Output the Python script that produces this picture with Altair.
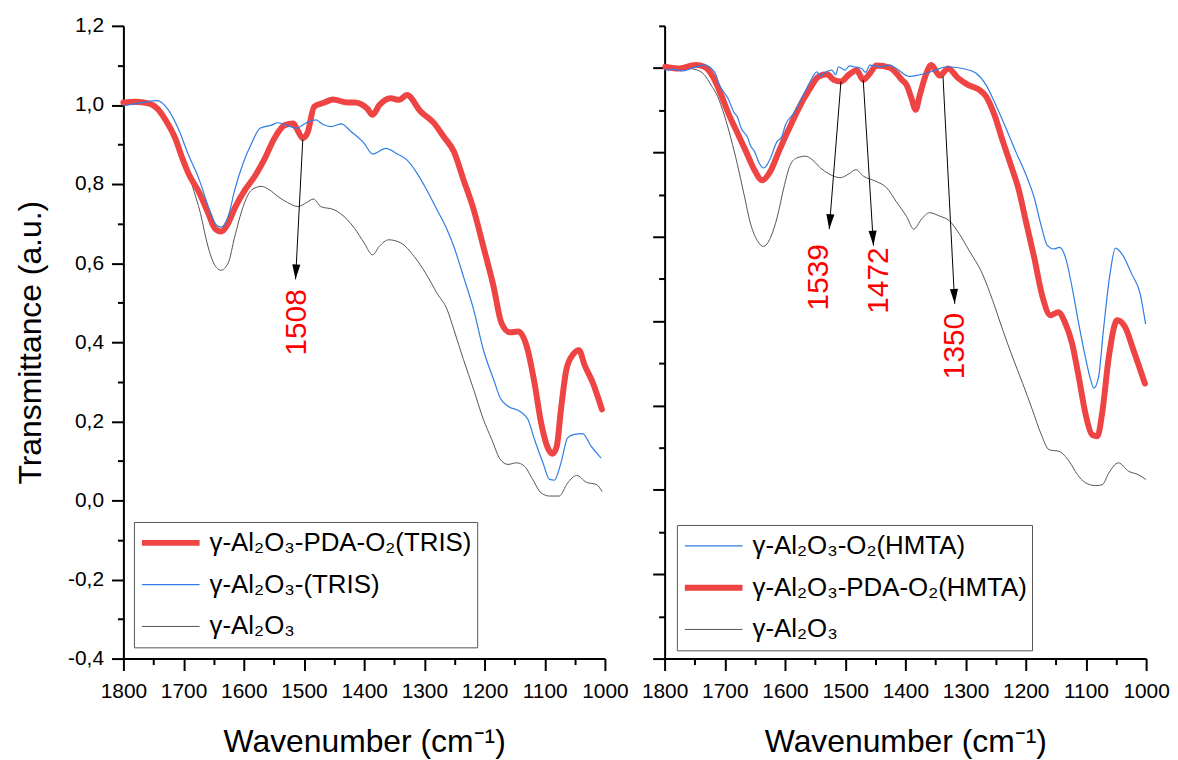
import altair as alt
import pandas as pd

FONT = "Liberation Sans"

# ---------------- left panel (TRIS) ----------------
L_RED_NAME = "γ-Al₂O₃-PDA-O₂(TRIS)"
L_BLUE_NAME = "γ-Al₂O₃-(TRIS)"
L_GRAY_NAME = "γ-Al₂O₃"

L_RED_WN = [1800, 1780, 1758, 1744, 1730, 1714, 1703, 1692, 1675, 1659, 1648, 1638, 1626, 1615,
            1598, 1582, 1565, 1549, 1532, 1518, 1511, 1502, 1494, 1483, 1466, 1452, 1428, 1416,
            1395, 1386, 1375, 1356, 1342, 1329, 1306, 1284, 1268, 1251, 1235, 1218, 1202, 1185,
            1172, 1158, 1144, 1130, 1117, 1106, 1095, 1087, 1080, 1073, 1064, 1053, 1043, 1034,
            1020, 1005]
L_RED_T = [1.006, 1.008, 1.004, 0.991, 0.962, 0.916, 0.869, 0.827, 0.781, 0.726, 0.688, 0.680,
           0.701, 0.739, 0.785, 0.819, 0.865, 0.916, 0.949, 0.953, 0.937, 0.916, 0.930, 0.996,
           1.006, 1.014, 1.006, 1.006, 0.991, 0.975, 0.999, 1.017, 1.013, 1.025, 0.983, 0.954,
           0.920, 0.882, 0.811, 0.735, 0.642, 0.541, 0.449, 0.425, 0.427, 0.390, 0.297, 0.196,
           0.133, 0.118, 0.137, 0.230, 0.331, 0.369, 0.380, 0.343, 0.297, 0.230]

L_BLUE_WN = [1800, 1769, 1744, 1725, 1708, 1692, 1675, 1659, 1648, 1638, 1626, 1615, 1601, 1587,
             1573, 1554, 1543, 1527, 1513, 1496, 1480, 1469, 1455, 1438, 1422, 1400, 1386, 1364,
             1345, 1329, 1312, 1296, 1279, 1262, 1251, 1235, 1218, 1202, 1185, 1174, 1161, 1141,
             1128, 1117, 1103, 1092, 1084, 1073, 1062, 1051, 1037, 1023, 1007]
L_BLUE_T = [0.998, 1.006, 1.011, 0.987, 0.937, 0.874, 0.815, 0.743, 0.701, 0.691, 0.718, 0.785,
            0.853, 0.903, 0.941, 0.949, 0.955, 0.947, 0.941, 0.955, 0.962, 0.951, 0.945, 0.952,
            0.933, 0.903, 0.876, 0.890, 0.876, 0.861, 0.827, 0.785, 0.735, 0.684, 0.642, 0.566,
            0.482, 0.381, 0.306, 0.259, 0.238, 0.225, 0.205, 0.154, 0.095, 0.053, 0.051, 0.095,
            0.158, 0.167, 0.169, 0.137, 0.108]

L_GRAY_WN = [1800, 1770, 1745, 1725, 1705, 1695, 1686, 1672, 1661, 1650, 1638, 1626, 1615, 1601,
             1587, 1571, 1557, 1543, 1527, 1510, 1496, 1484, 1472, 1450, 1428, 1416, 1400, 1386,
             1375, 1359, 1339, 1317, 1298, 1279, 1262, 1251, 1235, 1218, 1202, 1188, 1174, 1161,
             1147, 1134, 1120, 1106, 1092, 1076, 1062, 1047, 1031, 1014, 1005]
L_GRAY_T = [1.000, 1.003, 0.990, 0.955, 0.890, 0.845, 0.798, 0.726, 0.651, 0.600, 0.582, 0.600,
            0.667, 0.743, 0.785, 0.794, 0.785, 0.768, 0.753, 0.743, 0.753, 0.762, 0.743, 0.735,
            0.710, 0.688, 0.651, 0.621, 0.642, 0.659, 0.651, 0.617, 0.575, 0.524, 0.482, 0.432,
            0.356, 0.280, 0.205, 0.154, 0.104, 0.091, 0.095, 0.087, 0.053, 0.019, 0.011, 0.011,
            0.044, 0.063, 0.046, 0.040, 0.023]

L_ANN_LABEL = ["1508"]
L_ANN_WN1 = [1502]
L_ANN_T1 = [0.912]
L_ANN_WN2 = [1514]
L_ANN_T2 = [0.559]
L_ANN_TXT_WN = [1512]
L_ANN_TXT_T = [0.450]
L_ANN_HEAD_ANGLE = [3]

# ---------------- right panel (HMTA) ----------------
R_BLUE_NAME = "γ-Al₂O₃-O₂(HMTA)"
R_RED_NAME = "γ-Al₂O₃-PDA-O₂(HMTA)"
R_GRAY_NAME = " γ-Al₂O₃"

R_RED_WN = [1799, 1778, 1748, 1734, 1720, 1706, 1693, 1679, 1665, 1651, 1638, 1624, 1610, 1594,
            1577, 1560, 1544, 1530, 1519, 1507, 1494, 1481, 1470, 1459, 1448, 1426, 1415, 1406,
            1398, 1390, 1383, 1376, 1365, 1357, 1343, 1329, 1313, 1296, 1277, 1266, 1252, 1238,
            1225, 1211, 1200, 1186, 1172, 1159, 1146, 1134, 1123, 1112, 1101, 1090, 1081, 1073,
            1062, 1048, 1035, 1021, 1002]
R_RED_T = [1.003, 0.999, 1.007, 1.003, 0.980, 0.936, 0.889, 0.846, 0.803, 0.759, 0.734, 0.756,
           0.803, 0.854, 0.905, 0.948, 0.980, 0.985, 0.972, 0.968, 0.984, 0.995, 0.972, 0.987,
           1.006, 1.001, 0.988, 0.972, 0.960, 0.929, 0.901, 0.936, 0.988, 1.007, 0.982, 0.999,
           0.977, 0.960, 0.948, 0.933, 0.889, 0.826, 0.771, 0.708, 0.638, 0.551, 0.457, 0.414,
           0.421, 0.394, 0.347, 0.268, 0.182, 0.131, 0.127, 0.182, 0.315, 0.402, 0.386, 0.331,
           0.252]

R_BLUE_WN = [1799, 1784, 1770, 1756, 1745, 1734, 1717, 1709, 1695, 1684, 1679, 1673, 1662, 1657,
             1651, 1643, 1636, 1630, 1624, 1613, 1606, 1599, 1585, 1572, 1558, 1547, 1541, 1536,
             1522, 1516, 1511, 1500, 1493, 1486, 1473, 1466, 1459, 1442, 1426, 1415, 1393, 1376,
             1360, 1330, 1299, 1283, 1266, 1250, 1233, 1217, 1200, 1186, 1175, 1164, 1153, 1144,
             1134, 1123, 1112, 1101, 1092, 1087, 1079, 1071, 1060, 1051, 1040, 1024, 1010, 1001]
R_BLUE_T = [0.995, 0.997, 0.993, 0.999, 1.004, 1.007, 0.991, 0.960, 0.929, 0.893, 0.884, 0.858,
            0.835, 0.815, 0.803, 0.775, 0.763, 0.770, 0.787, 0.826, 0.835, 0.866, 0.893, 0.929,
            0.968, 0.991, 0.980, 0.987, 0.995, 0.984, 1.003, 0.995, 1.005, 1.003, 0.999, 0.990,
            1.007, 1.003, 1.007, 0.999, 0.980, 0.984, 0.990, 1.003, 0.997, 0.988, 0.960, 0.913,
            0.858, 0.803, 0.748, 0.693, 0.630, 0.579, 0.571, 0.575, 0.551, 0.480, 0.394, 0.315,
            0.260, 0.241, 0.268, 0.378, 0.512, 0.573, 0.559, 0.512, 0.465, 0.394]

R_GRAY_WN = [1800, 1780, 1760, 1750, 1734, 1723, 1712, 1701, 1690, 1679, 1668, 1657, 1646, 1636,
             1624, 1613, 1602, 1591, 1580, 1566, 1555, 1541, 1527, 1508, 1494, 1482, 1470, 1450,
             1431, 1415, 1398, 1386, 1373, 1360, 1343, 1327, 1310, 1294, 1272, 1255, 1238, 1222,
             1205, 1189, 1175, 1161, 1144, 1128, 1114, 1101, 1084, 1073, 1062, 1046, 1029, 1013,
             1001]
R_GRAY_T = [1.000, 1.000, 0.999, 0.997, 0.984, 0.960, 0.933, 0.889, 0.834, 0.771, 0.700, 0.630,
            0.591, 0.577, 0.598, 0.646, 0.716, 0.771, 0.787, 0.791, 0.783, 0.763, 0.749, 0.740,
            0.749, 0.759, 0.744, 0.732, 0.716, 0.683, 0.648, 0.618, 0.642, 0.657, 0.649, 0.638,
            0.606, 0.567, 0.512, 0.449, 0.378, 0.315, 0.252, 0.190, 0.134, 0.095, 0.091, 0.068,
            0.036, 0.017, 0.010, 0.012, 0.040, 0.064, 0.044, 0.036, 0.025]

R_ANN_LABEL = ["1539", "1472", "1350"]
R_ANN_WN1 = [1507, 1470, 1337.5]
R_ANN_T1 = [0.968, 0.972, 0.980]
R_ANN_WN2 = [1526.5, 1453, 1318]
R_ANN_T2 = [0.618, 0.579, 0.441]
R_ANN_TXT_WN = [1543.5, 1443, 1317]
R_ANN_TXT_T = [0.504, 0.496, 0.341]
R_ANN_HEAD_ANGLE = [4.5, 356.6, 357.1]

# ---------------- axes ticks ----------------
X_TICKS = list(range(1000, 1801, 50))
Y_TICKS_LEFT = [round(-0.4 + 0.1 * i, 1) for i in range(17)]
Y_TICKS_RIGHT = [round(-0.4 + 0.1 * i, 1) for i in range(16)]

RED = "#EF4444"
BLUE = "#2F7DE6"
GRAY = "#555555"

ARROW_HEAD = "M0,0L-0.27,-1L0.27,-1Z"


def series_frame(wn, t, name):
    return pd.DataFrame({"wn": wn, "t": t, "series": name})


def panel(frames, legend_order, colors, widths, draw_order, y_domain, y_ticks, show_y_labels,
          ann, legend_xy):
    df = pd.concat(frames, ignore_index=True)
    legend = alt.Legend(
        title=None, orient="none", legendX=legend_xy[0], legendY=legend_xy[1],
        symbolType="stroke", symbolSize=3364, clipHeight=32, rowPadding=10, padding=5,
        strokeColor="#555555", fillColor="white", labelFont=FONT, labelFontSize=26,
        labelColor="black", labelLimit=0, labelOffset=7,
    )
    x_axis = alt.Axis(
        values=X_TICKS, format="d",
        labelExpr="datum.value % 100 === 0 ? datum.label : ''",
        tickSize={"condition": {"test": "datum.value % 100 === 0", "value": 12}, "value": 6},
        title="Wavenumber (cm⁻¹)", titleFont=FONT, titleFontSize=32, titleFontWeight="normal",
        titleColor="black", titlePadding=25, labelFont=FONT, labelFontSize=21,
        labelColor="black", labelPadding=10, labelFlush=False, labelOverlap=False,
        grid=False, domainColor="black", domainWidth=2, tickColor="black", tickWidth=2,
    )
    y_common = dict(
        values=y_ticks,
        tickSize={"condition": {"test": "abs(round(datum.value*10)) % 2 === 0", "value": 12},
                  "value": 6},
        grid=False, domainColor="black", domainWidth=2, tickColor="black", tickWidth=2,
        labelFlush=False, labelOverlap=False,
    )
    if show_y_labels:
        y_axis = alt.Axis(
            labelExpr="abs(round(datum.value*10)) % 2 === 0 ? "
                      "replace(replace(format(datum.value, '.1f'), '.', ','), '−', '-') : ''",
            title="Transmittance (a.u.)", titleFont=FONT, titleFontSize=32,
            titleFontWeight="normal", titleColor="black", titlePadding=20,
            labelFont=FONT, labelFontSize=21, labelColor="black", labelPadding=8,
            **y_common,
        )
    else:
        y_axis = alt.Axis(labels=False, title=None, **y_common)

    x_scale = alt.Scale(domain=[1000, 1800], reverse=True, nice=False, zero=False)
    y_scale = alt.Scale(domain=y_domain, nice=False, zero=False)

    base = alt.Chart(df).mark_line(interpolate="monotone", strokeCap="round",
                                   strokeJoin="round").encode(
        x=alt.X("wn:Q", scale=x_scale, axis=x_axis),
        y=alt.Y("t:Q", scale=y_scale, axis=y_axis),
        color=alt.Color("series:N", scale=alt.Scale(domain=legend_order, range=colors),
                        legend=legend),
        strokeWidth=alt.StrokeWidth("series:N",
                                    scale=alt.Scale(type="ordinal", domain=legend_order,
                                                    range=widths),
                                    legend=legend),
    )
    layers = [base.transform_filter(alt.datum.series == n) for n in draw_order]

    adf = pd.DataFrame({
        "label": ann[0], "wn": ann[1], "t": ann[2], "wn2": ann[3], "t2": ann[4],
        "twn": ann[5], "tt": ann[6], "ang": ann[7],
    })
    arrows = alt.Chart(adf).mark_rule(color="black", strokeWidth=1).encode(
        x=alt.X("wn:Q", scale=x_scale, axis=x_axis),
        y=alt.Y("t:Q", scale=y_scale, axis=y_axis),
        x2="wn2:Q", y2="t2:Q")
    heads = alt.Chart(adf).mark_point(shape=ARROW_HEAD, filled=True, color="black", size=900,
                                      opacity=1, strokeWidth=0).encode(
        x=alt.X("wn2:Q", scale=x_scale, axis=x_axis),
        y=alt.Y("t2:Q", scale=y_scale, axis=y_axis),
        angle=alt.Angle("ang:Q", scale=None))
    texts = alt.Chart(adf).mark_text(angle=270, color="#FF0000", font=FONT, fontSize=30,
                                     align="center", baseline="middle").encode(
        x=alt.X("twn:Q", scale=x_scale, axis=x_axis),
        y=alt.Y("tt:Q", scale=y_scale, axis=y_axis),
        text="label:N")

    return alt.layer(*layers, arrows, heads, texts).properties(
        width=484, height=636,
        view=alt.ViewBackground(stroke="transparent", strokeWidth=0),
    )


left = panel(
    [series_frame(L_RED_WN, L_RED_T, L_RED_NAME),
     series_frame(L_BLUE_WN, L_BLUE_T, L_BLUE_NAME),
     series_frame(L_GRAY_WN, L_GRAY_T, L_GRAY_NAME)],
    [L_RED_NAME, L_BLUE_NAME, L_GRAY_NAME], [RED, BLUE, GRAY], [6, 1.2, 1],
    [L_GRAY_NAME, L_RED_NAME, L_BLUE_NAME],
    [-0.4, 1.2], Y_TICKS_LEFT, True,
    (L_ANN_LABEL, L_ANN_WN1, L_ANN_T1, L_ANN_WN2, L_ANN_T2, L_ANN_TXT_WN, L_ANN_TXT_T,
     L_ANN_HEAD_ANGLE),
    (10.6, 498.7),
)

right = panel(
    [series_frame(R_BLUE_WN, R_BLUE_T, R_BLUE_NAME),
     series_frame(R_RED_WN, R_RED_T, R_RED_NAME),
     series_frame(R_GRAY_WN, R_GRAY_T, R_GRAY_NAME)],
    [R_BLUE_NAME, R_RED_NAME, R_GRAY_NAME], [BLUE, RED, GRAY], [1.2, 6, 1],
    [R_GRAY_NAME, R_RED_NAME, R_BLUE_NAME],
    [-0.4, 1.1], Y_TICKS_RIGHT, False,
    (R_ANN_LABEL, R_ANN_WN1, R_ANN_T1, R_ANN_WN2, R_ANN_T2, R_ANN_TXT_WN, R_ANN_TXT_T,
     R_ANN_HEAD_ANGLE),
    (12.3, 501.7),
)

chart = alt.hconcat(left, right, spacing=60, bounds="flush").resolve_scale(
    x="independent", y="independent", color="independent", strokeWidth="independent",
).resolve_legend(color="independent", strokeWidth="independent").properties(
    padding={"left": 6, "top": 5, "right": 0, "bottom": 0}
).configure_view(stroke="transparent", strokeWidth=0).configure_axis(
    grid=False, gridColor="transparent", gridOpacity=0, gridWidth=0,
    domainColor="transparent", tickColor="transparent", labelColor="transparent",
    titleColor="transparent",
).configure(background="white")

chart.save("out.html", embed_options={"renderer": "svg", "actions": False})
